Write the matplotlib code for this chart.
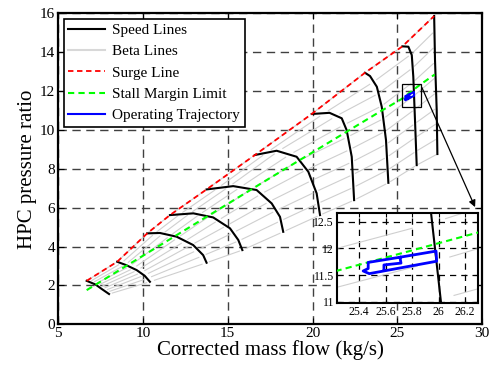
import numpy as np
import matplotlib
matplotlib.use("Agg")
import matplotlib.pyplot as plt
from matplotlib.patches import Rectangle

plt.rcParams['font.family'] = ['Liberation Serif', 'DejaVu Serif']

# ---- data ----
speed_lines = [
    [(6.68, 2.24), (7.2, 2.05), (7.6, 1.8), (8.0, 1.56)],
    [(8.48, 3.22), (9.0, 3.05), (9.63, 2.79), (10.1, 2.5), (10.41, 2.19)],
    [(10.25, 4.68), (11.0, 4.70), (11.98, 4.51), (12.96, 4.08), (13.55, 3.56), (13.75, 3.17)],
    [(11.59, 5.62), (12.97, 5.71), (14.14, 5.50), (15.13, 4.94), (15.62, 4.34), (15.86, 3.82)],
    [(13.75, 6.94), (15.32, 7.11), (16.7, 6.91), (17.59, 6.22), (18.08, 5.53), (18.27, 4.76)],
    [(16.6, 8.71), (17.88, 8.93), (19.06, 8.62), (19.75, 7.85), (20.24, 6.74), (20.44, 5.62)],
    [(19.95, 10.82), (21.0, 10.88), (21.72, 10.6), (22.01, 9.99), (22.31, 8.62), (22.45, 6.39)],
    [(23.09, 12.94), (23.39, 12.77), (23.79, 12.22), (24.08, 11.19), (24.33, 9.48), (24.47, 7.28)],
    [(25.3, 14.3), (25.65, 14.28), (25.85, 13.85), (25.94, 12.74), (26.04, 10.51), (26.14, 8.19)],
    [(27.17, 15.86), (27.22, 13.6), (27.32, 11.02), (27.36, 8.76)],
]

surge_x = [6.68, 8.48, 10.25, 11.59, 13.75, 16.6, 19.95, 23.09, 25.3, 27.17]
surge_y = [2.24, 3.22, 4.68, 5.62, 6.94, 8.71, 10.82, 12.94, 14.3, 15.86]

stall_x = [6.68, 17.29, 23.97, 25.23, 26.3, 27.2]
stall_y = [1.76, 7.42, 10.94, 11.58, 12.3, 12.85]

traj_x = [25.587, 25.587, 25.716, 25.708, 25.981, 25.986, 25.476, 25.430, 25.468, 25.468, 25.708]
traj_y = [11.61, 11.69, 11.725, 11.835, 11.95, 11.76, 11.527, 11.577, 11.623, 11.738, 11.835]

n_beta = 10
zoom_box = (25.25, 11.2, 26.38, 12.36)


def resample(line, n):
    # points at equal fractions of (screen-scaled) arc length
    pts = np.array(line)
    d = np.hypot(np.diff(pts[:, 0]) * 17.0, np.diff(pts[:, 1]) * 19.4)
    s = np.concatenate([[0], np.cumsum(d)]) / d.sum()
    t = np.linspace(0, 1, n)
    return np.interp(t, s, pts[:, 0]), np.interp(t, s, pts[:, 1])


def draw_map(ax, lw_traj):
    for a, b in zip(speed_lines[:-1], speed_lines[1:]):
        ax_, ay_ = resample(a, n_beta)
        bx_, by_ = resample(b, n_beta)
        for k in range(n_beta):
            # short segment between the two speed lines
            x0 = ax_[k] + 0.08 * (bx_[k] - ax_[k])
            y0 = ay_[k] + 0.08 * (by_[k] - ay_[k])
            x1 = ax_[k] + 0.92 * (bx_[k] - ax_[k])
            y1 = ay_[k] + 0.92 * (by_[k] - ay_[k])
            ax.plot([x0, x1], [y0, y1], color='#cfcfcf', lw=0.8, zorder=2)
    for line in speed_lines:
        pts = np.array(line)
        ax.plot(pts[:, 0], pts[:, 1], color='black', lw=1.5, zorder=3)
    ax.plot(surge_x, surge_y, color='red', ls=(0, (3, 2)), lw=1.3, zorder=4)
    ax.plot(stall_x, stall_y, color='#00ff00', ls=(0, (3, 2)), lw=1.5, zorder=4)
    ax.plot(traj_x, traj_y, color='blue', lw=lw_traj, zorder=5)


fig = plt.figure(figsize=(4.93, 3.69), dpi=100)
ax = fig.add_axes([0.118, 0.121, 0.860, 0.843])
draw_map(ax, 1.5)

ax.set_xlim(5, 30)
ax.set_ylim(0, 16)
ax.set_xticks(np.arange(5, 31, 5))
ax.set_yticks(np.arange(0, 17, 2))
ax.tick_params(direction='in', top=True, right=True, length=4, labelsize=11, pad=2)
ax.grid(True, ls=(0, (6, 4)), color='#404040', lw=1.0)
for s in ax.spines.values():
    s.set_linewidth(1.6)
ax.set_xlabel('Corrected mass flow (kg/s)', fontsize=15, labelpad=0)
ax.set_ylabel('HPC pressure ratio', fontsize=15, labelpad=2)

h = [plt.Line2D([], [], color='black', lw=1.5),
     plt.Line2D([], [], color='#d8d8d8', lw=1.5),
     plt.Line2D([], [], color='red', ls=(0, (3, 2)), lw=1.3),
     plt.Line2D([], [], color='#00ff00', ls=(0, (3, 2)), lw=1.5),
     plt.Line2D([], [], color='blue', lw=1.5)]
labels = ['Speed Lines', 'Beta Lines', 'Surge Line', 'Stall Margin Limit', 'Operating Trajectory']
leg = ax.legend(h, labels, loc='upper left', fontsize=11, fancybox=False, framealpha=1,
                edgecolor='black', borderaxespad=0.35, handlelength=2.4, labelspacing=0.5,
                borderpad=0.3, handletextpad=0.5)
leg.get_frame().set_linewidth(1.2)
leg.set_zorder(10)

ax.add_patch(Rectangle(zoom_box[:2], zoom_box[2] - zoom_box[0], zoom_box[3] - zoom_box[1],
                       fill=False, ec='black', lw=0.9, zorder=6))
ax.annotate('', xy=(29.65, 5.9), xytext=(zoom_box[2], zoom_box[3] - 0.05),
            arrowprops=dict(arrowstyle='-|>', color='black', lw=0.9, mutation_scale=10),
            zorder=6)

# ---- inset ----
axi = fig.add_axes([0.683, 0.178, 0.287, 0.244])
draw_map(axi, 2.0)
axi.set_xlim(25.23, 26.3)
axi.set_ylim(10.97, 12.66)
axi.set_xticks([25.4, 25.6, 25.8, 26.0, 26.2])
axi.set_xticklabels(['25.4', '25.6', '25.8', '26', '26.2'])
axi.set_yticks([11, 11.5, 12, 12.5])
axi.set_yticklabels(['11', '11.5', '12', '12.5'])
axi.tick_params(direction='in', top=True, right=True, length=3, labelsize=8.5, pad=2)
axi.grid(True, ls=(0, (5, 4)), color='black', lw=0.9)
for s in axi.spines.values():
    s.set_linewidth(1.5)

fig.savefig('out.png', dpi=100)
